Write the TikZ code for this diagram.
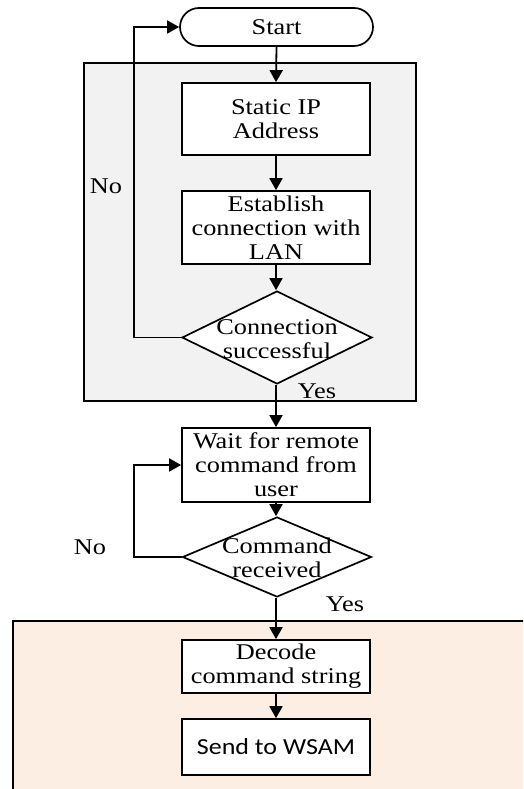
\documentclass[tikz,border=0pt]{standalone}
\usepackage{fontspec}
\setmainfont{Liberation Serif}[FakeStretch=1.17]
\newfontfamily\calfont{Carlito}[FakeStretch=1.13]
\usetikzlibrary{shapes.geometric,arrows.meta}
\definecolor{panelgray}{HTML}{F2F2F2}
\definecolor{panelpeach}{HTML}{FDEEE3}
\tikzset{
  box/.style={draw=black, line width=1.7pt, fill=white, rectangle, minimum width=188pt, inner sep=0pt, align=center},
  term/.style={draw=black, line width=1.7pt, fill=white, rectangle, rounded corners=19pt, minimum width=193pt, minimum height=38pt, inner sep=0pt},
  dec/.style={draw=black, line width=1.7pt, fill=white, diamond, inner sep=0pt},
  txt/.style={align=center, inner sep=0pt, font=\fontsize{22.5}{24}\selectfont},
  lbl/.style={inner sep=0pt, font=\fontsize{22.5}{24}\selectfont},
  flow/.style={line width=1.8pt, -{Triangle[length=12pt,width=13pt]}},
  panel/.style={draw=black, line width=1.6pt}
}
\begin{document}
\begin{tikzpicture}[x=1pt,y=-1pt]
\useasboundingbox (0,0) rectangle (523,789);
\clip (0,0) rectangle (523,789);
\fill[white] (0,0) rectangle (523,789);
% panels
\draw[panel, fill=panelgray] (84,63) rectangle (416,401);
\draw[panel, fill=panelpeach] (13,621) rectangle (540,810);
% nodes
\node[term, txt] (start) at (276.5,27) {Start};
\node[box, txt, minimum height=72pt] (ip) at (276,119) {Static IP\\Address};
\node[box, txt, minimum height=73pt] (est) at (276,227.5) {Establish\\connection with\\LAN};
\node[dec, minimum width=190pt, minimum height=93pt] (d1) at (277,337.5) {};
\node[txt] (d1t) at (277,339) {Connection\\successful};
\node[box, txt, minimum height=74pt] (wait) at (276,465) {Wait for remote\\command from\\user};
\node[dec, minimum width=189pt, minimum height=80pt] (d2) at (277,557) {};
\node[txt] (d2t) at (277,558) {Command\\received};
\node[box, txt, minimum height=53pt] (decode) at (276,666.5) {Decode\\command string};
\node[box, minimum height=56pt, font=\calfont\fontsize{23}{24}\selectfont] (send) at (276,747) {Send to WSAM};
% labels
\node[lbl] (no1) at (106,186) {No};
\node[lbl] (no2) at (90,547) {No};
\node[lbl] (yes1) at (317,391) {Yes};
\node[lbl] (yes2) at (345,604) {Yes};
% loop corners
\coordinate (c1) at (134,337.5);
\coordinate (c2) at (134,27);
\coordinate (c3) at (134,557);
\coordinate (c4) at (134,465);
% connectors
\draw[flow] (start.south) -- (ip.north);
\draw[flow] (ip.south) -- (est.north);
\draw[flow] (est.south) -- (d1.north -| est.south);
\draw[flow] (d1.south -| wait.north) -- (wait.north);
\draw[flow] (wait.south) -- (d2.north -| wait.south);
\draw[flow] (d2.south -| decode.north) -- (decode.north);
\draw[flow] (decode.south) -- (send.north);
\draw[flow] (d1.west) -- (c1) -- (c2) -- (start.west);
\draw[flow] (d2.west) -- (c3) -- (c4) -- (wait.west);
\end{tikzpicture}
\end{document}
